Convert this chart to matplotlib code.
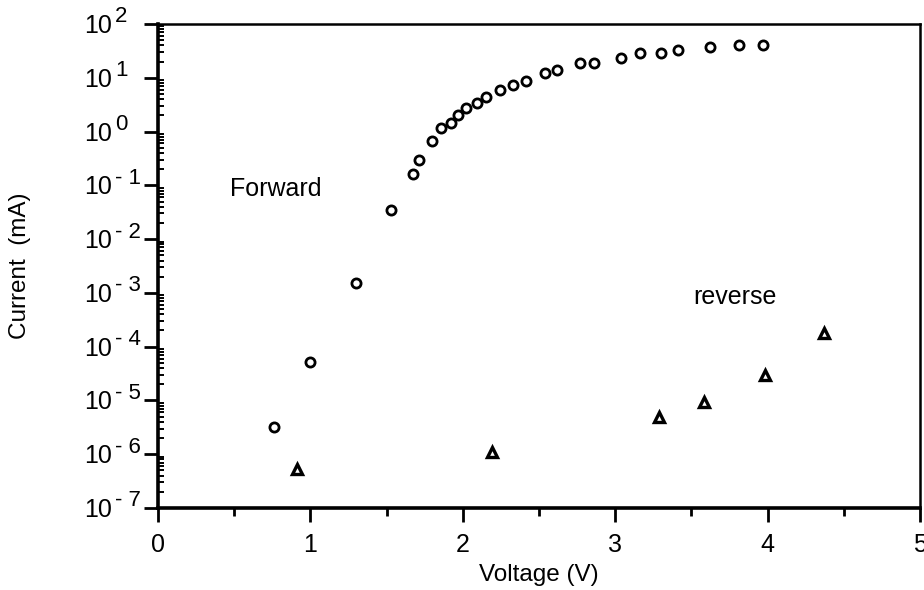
import matplotlib.pyplot as plt
from matplotlib.ticker import LogLocator, MultipleLocator, NullFormatter
from matplotlib.transforms import blended_transform_factory, offset_copy

plt.rcParams['font.family'] = ['Liberation Sans', 'DejaVu Sans']

# forward bias sweep (V, mA)
fwd_v = [0.76, 1.00, 1.30, 1.53, 1.67, 1.71, 1.795, 1.86, 1.92, 1.97,
         2.02, 2.09, 2.15, 2.245, 2.33, 2.415, 2.54, 2.62, 2.77, 2.86,
         3.035, 3.165, 3.30, 3.41, 3.62, 3.81, 3.97]
fwd_i = [3.2e-6, 5.2e-5, 1.55e-3, 3.5e-2, 0.16, 0.30, 0.67, 1.17, 1.45, 2.0,
         2.75, 3.4, 4.4, 5.9, 7.4, 8.7, 12.3, 14.0, 18.8, 18.8,
         23.4, 29.0, 29.0, 33.0, 37.0, 41.0, 41.0]

# reverse bias sweep (|V|, mA)
rev_v = [0.91, 2.19, 3.29, 3.58, 3.98, 4.37]
rev_i = [5.4e-7, 1.1e-6, 5.0e-6, 9.3e-6, 3.0e-5, 1.8e-4]

decades = list(range(-7, 3))

fig = plt.figure(figsize=(9.24, 5.90), dpi=100)
ax = fig.add_axes([158 / 924, 1 - 508 / 590, 762 / 924, 484 / 590])

ax.plot(fwd_v, fwd_i, 'o', ms=6.6, mfc='white', mec='black', mew=2.0)
ax.plot(rev_v, rev_i, '^', ms=7.5, mfc='white', mec='black', mew=2.4)

ax.set_yscale('log')
ax.set_xlim(0, 5)
ax.set_ylim(1e-7, 1e2)

for side in ['left', 'bottom']:
    ax.spines[side].set_linewidth(2.6)
for side in ['top', 'right']:
    ax.spines[side].set_linewidth(1.8)

ax.xaxis.set_major_locator(MultipleLocator(1))
ax.xaxis.set_minor_locator(MultipleLocator(0.5))
ax.tick_params(axis='x', which='major', direction='out', length=10,
               width=2, labelsize=18, pad=8)
ax.tick_params(axis='x', which='minor', direction='out', length=6, width=2)

ax.yaxis.set_major_locator(LogLocator(base=10, numticks=20))
ax.yaxis.set_minor_locator(LogLocator(base=10, subs=range(2, 10), numticks=20))
ax.yaxis.set_major_formatter(NullFormatter())
ax.yaxis.set_minor_formatter(NullFormatter())
ax.tick_params(axis='y', which='major', direction='out', length=10, width=2)
ax.tick_params(axis='y', which='minor', direction='in', length=4, width=1.4)

# y tick labels written as "10" with a raised exponent
trans = blended_transform_factory(ax.transAxes, ax.transData)
base_tr = offset_copy(trans, fig=fig, x=0, y=-2, units='dots')
exp_tr = offset_copy(trans, fig=fig, x=0, y=7, units='dots')
for e in decades:
    ax.text(-46 / 762, 10.0 ** e, '10', transform=base_tr,
            ha='right', va='center', fontsize=18)
    exp = str(e) if e >= 0 else '- ' + str(-e)
    ax.text(-43 / 762, 10.0 ** e, exp, transform=exp_tr,
            ha='left', va='center', fontsize=16)

ax.set_xlabel('Voltage (V)', fontsize=17.5, labelpad=5)
ax.set_ylabel('Current  (mA)', fontsize=17.5, labelpad=78)

ax.text(0.47, 0.085, 'Forward', fontsize=18, va='center')
ax.text(3.51, 8.5e-4, 'reverse', fontsize=18, va='center')

fig.savefig('out.png', dpi=100)
